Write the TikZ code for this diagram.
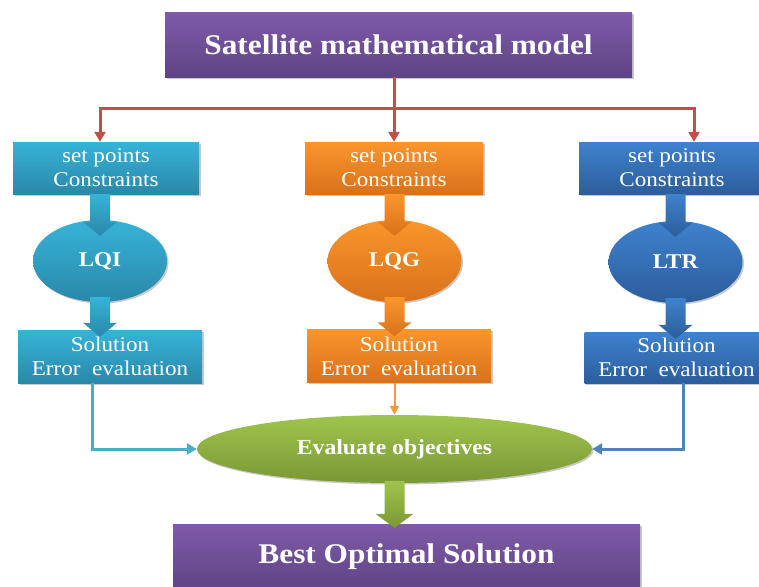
\documentclass[tikz,border=0pt]{standalone}
\usepackage{fontspec}
\setmainfont[FakeStretch=1.1]{Liberation Serif}
\usetikzlibrary{arrows.meta,calc,shapes.geometric,shadows}
\definecolor{purT}{HTML}{7F5AA8}
\definecolor{purB}{HTML}{5E4485}
\definecolor{cyT}{HTML}{36B3D8}
\definecolor{cyB}{HTML}{2A88A9}
\definecolor{orT}{HTML}{F9962C}
\definecolor{orB}{HTML}{D9711A}
\definecolor{blT}{HTML}{3E82CE}
\definecolor{blB}{HTML}{2C5D9B}
\definecolor{grT}{HTML}{9FC44C}
\definecolor{grB}{HTML}{7A9836}
\definecolor{redL}{HTML}{C0504D}
\definecolor{cyL}{HTML}{4BACC6}
\definecolor{blL}{HTML}{4F81BD}
\definecolor{orL}{HTML}{F79646}
\newcommand{\blockarrow}[5]{%
  \path[top color=#3, bottom color=#4] let \p1=(#1), \p2=(#2) in
    (\x1-10pt,\y1) -- (\x1-10pt,\y2+14pt) -- (\x1-#5,\y2+14pt) -- (\x1,\y2)
    -- (\x1+#5,\y2+14pt) -- (\x1+10pt,\y2+14pt) -- (\x1+10pt,\y1) -- cycle;}
\begin{document}
\begin{tikzpicture}[x=1pt,y=-1pt,
  shad/.style={drop shadow={shadow xshift=1.5pt, shadow yshift=-1.5pt, opacity=0.3, fill=black!70}},
  box/.style={rectangle, shad, text=white, align=center, inner sep=0pt,
    font=\fontsize{21}{24}\selectfont, minimum height=52pt},
  bigbox/.style={rectangle, shad, text=white, align=center, inner sep=0pt,
    font=\bfseries\fontsize{28.5}{32}\selectfont, top color=purT, bottom color=purB},
  ctrl/.style={ellipse, shad, text=white, inner sep=0pt, minimum width=134pt,
    minimum height=82pt, font=\bfseries\fontsize{21}{24}\selectfont},
  redline/.style={draw=redL, line width=3pt, -{Triangle[width=11pt,length=10pt]}},
  conn/.style={line width=3pt, -{Triangle[width=11pt,length=10pt]}}
]
\useasboundingbox (0,0) rectangle (759,586);
% top and bottom boxes
\node[bigbox, minimum width=467pt, minimum height=64pt] (top) at (398.5,45) {Satellite mathematical model};
\node[bigbox, minimum width=467pt, minimum height=66pt] (best) at (406.5,557) {Best Optimal Solution};
% set point boxes
\node[box, minimum width=186pt, top color=cyT, bottom color=cyB] (sp1) at (106,168) {set points\\Constraints};
\node[box, minimum width=178pt, top color=orT, bottom color=orB] (sp2) at (394,168) {set points\\Constraints};
\node[box, minimum width=186pt, top color=blT, bottom color=blB] (sp3) at (672,168) {set points\\Constraints};
% controllers
\node[ctrl, top color=cyT, bottom color=cyB] (lqi) at (100,261) {LQI};
\node[ctrl, top color=orT, bottom color=orB] (lqg) at (394.5,261) {LQG};
\node[ctrl, top color=blT, bottom color=blB] (ltr) at (675.5,262) {LTR};
% solution boxes
\node[box, minimum width=184pt, minimum height=53pt, top color=cyT, bottom color=cyB] (so1) at (110,356.5) {Solution\\Error~~evaluation};
\node[box, minimum width=184pt, minimum height=53pt, top color=orT, bottom color=orB] (so2) at (399,356) {Solution\\Error~~evaluation};
\node[box, minimum width=184pt, minimum height=51pt, top color=blT, bottom color=blB] (so3) at (676.5,357.5) {Solution\\Error~~evaluation};
% evaluate
\node[ellipse, shad, text=white, inner sep=0pt, minimum width=395pt, minimum height=68pt,
  top color=grT, bottom color=grB, font=\bfseries\fontsize{21.5}{24}\selectfont] (ev) at (394.5,449) {Evaluate objectives};
% block arrows
\blockarrow{lqi.north |- sp1.south}{[yshift=-16pt]lqi.north}{cyT}{cyB}{17pt}
\blockarrow{[yshift=5pt]lqi.south}{[yshift=-7pt]lqi.south |- so1.north}{cyT}{cyB}{17pt}
\blockarrow{lqg.north |- sp2.south}{[yshift=-16pt]lqg.north}{orT}{orB}{17pt}
\blockarrow{[yshift=5pt]lqg.south}{[yshift=-7pt]lqg.south |- so2.north}{orT}{orB}{17pt}
\blockarrow{ltr.north |- sp3.south}{[yshift=-16pt]ltr.north}{blT}{blB}{17pt}
\blockarrow{[yshift=5pt]ltr.south}{[yshift=-7pt]ltr.south |- so3.north}{blT}{blB}{17pt}
\blockarrow{[yshift=2pt]ev.south}{[yshift=-4pt]ev.south |- best.north}{grT}{grB}{19pt}
% red distribution lines
\coordinate (bus) at (394,108);
\draw[draw=redL, line width=3pt] (top.south -| bus) -- (bus);
\draw[redline] (bus) -| ([xshift=-6pt]sp1.north);
\draw[redline] (bus) -- (sp2.north);
\draw[redline] (bus) -| ([xshift=22pt]sp3.north);
% connectors to evaluate
\draw[conn, draw=cyL] ([xshift=-18pt]so1.south) |- (ev.west);
\draw[line width=2pt, draw=orL, -{Triangle[width=9pt,length=9pt]}] (so2.south -| ev.north) -- (ev.north);
\draw[conn, draw=blL] ([xshift=7pt]so3.south) |- (ev.east);
\end{tikzpicture}
\end{document}
